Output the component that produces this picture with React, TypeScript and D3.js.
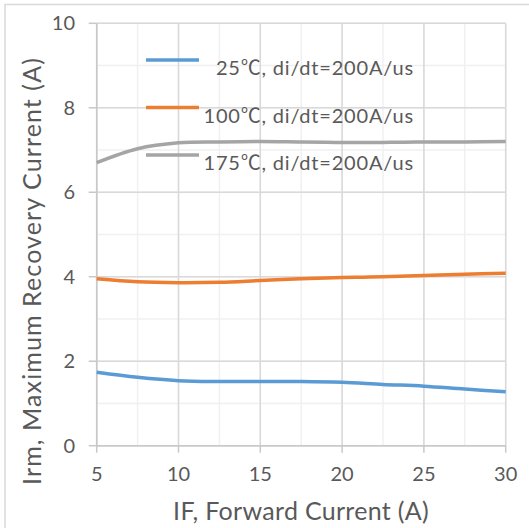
import * as d3 from 'd3';
import React from 'react';

const current = [5, 7.5, 10, 12.5, 15, 17.5, 20, 22.5, 25, 27.5, 30];
const irm25 = [1.74, 1.62, 1.54, 1.52, 1.52, 1.52, 1.5, 1.45, 1.41, 1.34, 1.28];
const irm100 = [3.95, 3.88, 3.86, 3.87, 3.91, 3.95, 3.98, 4.0, 4.03, 4.06, 4.08];
const irm175 = [6.7, 7.03, 7.17, 7.19, 7.2, 7.19, 7.18, 7.18, 7.19, 7.19, 7.2];
const seriesNames = ['25℃, di/dt=200A/us', '100℃, di/dt=200A/us', '175℃, di/dt=200A/us'];
const seriesColors = ['#5b9bd5', '#ed7d31', '#a5a5a5'];
const xTicks = [5, 10, 15, 20, 25, 30];
const yTicks = [0, 2, 4, 6, 8, 10];

const W = 529;
const H = 528;
const font = 'Lato, "Noto Sans CJK SC", sans-serif';
const textColor = '#595959';

export default function App() {
    const x = d3.scaleLinear().domain([5, 30]).range([96.7, 505.7]);
    const y = d3.scaleLinear().domain([0, 10]).range([445.7, 23.3]);
    const line = d3.line<number>()
        .x((_, i) => x(current[i]))
        .y(d => y(d))
        .curve(d3.curveCatmullRom.alpha(0.5));

    const allSeries = [irm25, irm100, irm175];
    const minorX = d3.range(5, 30.01, 2.5);
    const minorY = d3.range(0, 10.01, 1);

    return (
        <svg width={W} height={H} style={{ position: 'absolute', left: 0, top: 0, background: '#fff' }}>
            <rect x={5} y={4.5} width={540} height={540} fill="#fff" stroke="#d9d9d9" strokeWidth={1.5} />

            {/* minor grid */}
            {minorX.map(v => (
                <line key={'mx' + v} x1={x(v)} x2={x(v)} y1={y(0)} y2={y(10)} stroke="#f0f0f0" strokeWidth={1.5} />
            ))}
            {minorY.map(v => (
                <line key={'my' + v} x1={x(5)} x2={x(30)} y1={y(v)} y2={y(v)} stroke="#f0f0f0" strokeWidth={1.5} />
            ))}
            {/* major grid */}
            {xTicks.map(v => (
                <line key={'gx' + v} x1={x(v)} x2={x(v)} y1={y(0)} y2={y(10)} stroke="#d9d9d9" strokeWidth={1.5} />
            ))}
            {yTicks.map(v => (
                <line key={'gy' + v} x1={x(5)} x2={x(30)} y1={y(v)} y2={y(v)} stroke="#d9d9d9" strokeWidth={1.5} />
            ))}

            {/* axes */}
            <line x1={x(5)} x2={x(5)} y1={y(0)} y2={y(10)} stroke="#c8c8c8" strokeWidth={1.5} />
            <line x1={x(5)} x2={x(30)} y1={y(0)} y2={y(0)} stroke="#c8c8c8" strokeWidth={1.5} />
            {yTicks.map(v => (
                <line key={'ty' + v} x1={x(5) - 8} x2={x(5)} y1={y(v)} y2={y(v)} stroke="#c8c8c8" strokeWidth={1.5} />
            ))}
            {xTicks.map(v => (
                <line key={'tx' + v} x1={x(v)} x2={x(v)} y1={y(0)} y2={y(0) + 7} stroke="#c8c8c8" strokeWidth={1.5} />
            ))}

            {/* tick labels */}
            {yTicks.map(v => (
                <text key={'ly' + v} x={75} y={y(v)} dy="0.35em" textAnchor="end"
                    fontFamily={font} fontSize={20} fill={textColor}>{v}</text>
            ))}
            {xTicks.map(v => (
                <text key={'lx' + v} x={x(v)} y={481} textAnchor="middle"
                    fontFamily={font} fontSize={20} fill={textColor}>{v}</text>
            ))}

            {/* axis titles */}
            <text x={301} y={520} textAnchor="middle" fontFamily={font} fontSize={25} fill={textColor}
                letterSpacing={0.3}>
                IF, Forward Current (A)
            </text>
            <text transform="translate(41, 271) rotate(-90)" textAnchor="middle" fontFamily={font}
                fontSize={25} fill={textColor} letterSpacing={1.1}>
                Irm, Maximum Recovery Current (A)
            </text>

            {/* series */}
            {allSeries.map((s, i) => (
                <path key={'s' + i} d={line(s) || ''} fill="none" stroke={seriesColors[i]} strokeWidth={3.5} />
            ))}

            {/* legend */}
            {seriesNames.map((name, i) => {
                const ly = 60 + i * 47.5;
                return (
                    <g key={'lg' + i}>
                        <line x1={146} x2={199} y1={ly} y2={ly} stroke={seriesColors[i]} strokeWidth={3.5} />
                        <text x={414} y={ly + 15} textAnchor="end" fontFamily={font} fontSize={20} fill={textColor}
                            letterSpacing={0.8}>
                            {name}
                        </text>
                    </g>
                );
            })}
        </svg>
    );
}
